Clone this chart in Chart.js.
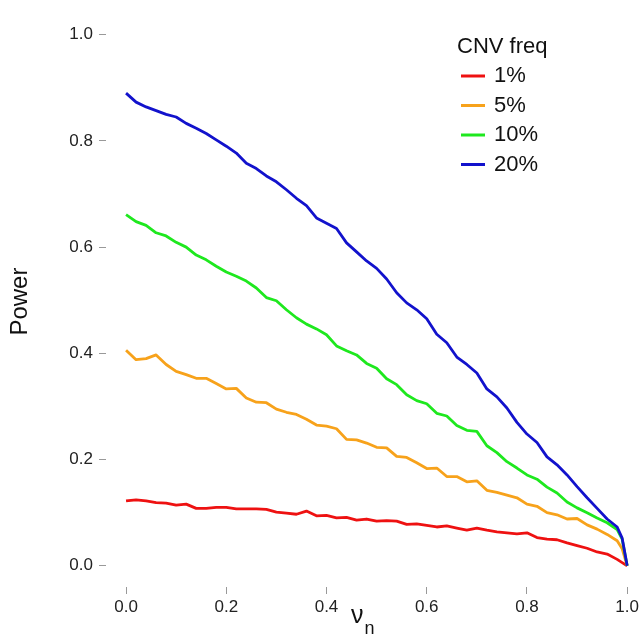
<!DOCTYPE html>
<html>
<head>
<meta charset="utf-8">
<script src="https://cdn.jsdelivr.net/npm/chart.js@4.4.3/dist/chart.umd.min.js"></script>
<style>
  html, body { margin: 0; padding: 0; background: #fff; }
  #wrap { width: 642px; height: 636px; position: relative; }
</style>
</head>
<body>
<div id="wrap"><canvas id="chart" width="642" height="636"></canvas></div>
<script>
// nu_n grid (x values)
const xValues = [0, 0.02, 0.04, 0.06, 0.08, 0.1, 0.12, 0.14, 0.16, 0.18,
    0.2, 0.22, 0.24, 0.26, 0.28, 0.3, 0.32, 0.34, 0.36, 0.38,
    0.4, 0.42, 0.44, 0.46, 0.48, 0.5, 0.52, 0.54, 0.56, 0.58,
    0.6, 0.62, 0.64, 0.66, 0.68, 0.7, 0.72, 0.74, 0.76, 0.78,
    0.8, 0.82, 0.84, 0.86, 0.88, 0.9, 0.92, 0.94, 0.96, 0.98,
    0.99, 1];

// power per CNV frequency
const power1 = [0.122, 0.124, 0.122, 0.119, 0.118, 0.114, 0.116, 0.108, 0.108, 0.110,
    0.110, 0.107, 0.107, 0.107, 0.106, 0.101, 0.099, 0.097, 0.103, 0.094,
    0.095, 0.090, 0.091, 0.086, 0.088, 0.084, 0.085, 0.084, 0.078, 0.079,
    0.076, 0.073, 0.075, 0.071, 0.067, 0.071, 0.067, 0.064, 0.062, 0.060,
    0.062, 0.053, 0.050, 0.049, 0.043, 0.038, 0.033, 0.026, 0.022, 0.012,
    0.006, 0.000];
const power5 = [0.406, 0.388, 0.390, 0.397, 0.379, 0.366, 0.360, 0.353, 0.353, 0.343,
    0.333, 0.334, 0.316, 0.308, 0.307, 0.295, 0.289, 0.285, 0.276, 0.265,
    0.263, 0.258, 0.238, 0.237, 0.231, 0.223, 0.222, 0.206, 0.204, 0.194,
    0.183, 0.184, 0.168, 0.168, 0.158, 0.160, 0.142, 0.138, 0.133, 0.128,
    0.116, 0.112, 0.100, 0.096, 0.088, 0.089, 0.077, 0.069, 0.059, 0.047,
    0.032, 0.000];
const power10 = [0.661, 0.648, 0.641, 0.627, 0.621, 0.609, 0.600, 0.585, 0.576, 0.564,
    0.553, 0.545, 0.536, 0.523, 0.505, 0.499, 0.482, 0.467, 0.455, 0.446,
    0.435, 0.414, 0.405, 0.397, 0.381, 0.372, 0.352, 0.341, 0.322, 0.311,
    0.305, 0.287, 0.282, 0.264, 0.255, 0.253, 0.226, 0.213, 0.196, 0.184,
    0.171, 0.163, 0.148, 0.137, 0.120, 0.109, 0.100, 0.090, 0.081, 0.068,
    0.050, 0.000];
const power20 = [0.890, 0.873, 0.864, 0.857, 0.850, 0.845, 0.833, 0.824, 0.814, 0.802,
    0.790, 0.777, 0.758, 0.748, 0.734, 0.723, 0.708, 0.692, 0.678, 0.655,
    0.645, 0.635, 0.608, 0.591, 0.574, 0.560, 0.540, 0.514, 0.495, 0.482,
    0.465, 0.436, 0.420, 0.393, 0.379, 0.363, 0.333, 0.318, 0.297, 0.270,
    0.248, 0.232, 0.205, 0.190, 0.171, 0.149, 0.128, 0.108, 0.088, 0.073,
    0.052, 0.000];

const seriesLabels = ['1%', '5%', '10%', '20%'];
const seriesColors = ['#ee1111', '#f7a21b', '#1ee81e', '#1212cc'];
const tickValues = [0, 0.2, 0.4, 0.6, 0.8, 1.0];

const legendTitle = 'CNV freq';
const yTitle = 'Power';
const xTitleMain = 'ν';
const xTitleSub = 'n';

const family = '"Liberation Sans", Arial, sans-serif';

const toPoints = ys => xValues.map((x, i) => ({ x: x, y: ys[i] }));

// legend box + subscripted x title, R style
const annotations = {
    id: 'annotations',
    afterDraw(chart) {
        const ctx = chart.ctx;
        ctx.save();
        ctx.fillStyle = '#111';
        ctx.textAlign = 'left';
        ctx.textBaseline = 'middle';
        ctx.font = `22px ${family}`;
        ctx.fillText(legendTitle, 457, 47);
        chart.data.datasets.forEach((ds, i) => {
            const y = 76 + i * 29.5;
            ctx.strokeStyle = ds.borderColor;
            ctx.lineWidth = 3;
            ctx.beginPath();
            ctx.moveTo(461, y);
            ctx.lineTo(485, y);
            ctx.stroke();
            ctx.fillText(ds.label, 494, y);
        });

        ctx.textBaseline = 'alphabetic';
        ctx.font = `25px ${family}`;
        ctx.fillText(xTitleMain, 351, 623);
        const w = ctx.measureText(xTitleMain).width;
        ctx.font = `18px ${family}`;
        ctx.fillText(xTitleSub, 351 + w + 1, 634);
        ctx.restore();
    }
};

const fixedTicks = scale => {
    scale.ticks = tickValues.map(v => ({ value: v }));
};

const tickStyle = {
    padding: 0,
    color: '#222',
    font: { size: 17, family: family },
    callback: v => Number(v).toFixed(1),
    autoSkip: false,
    maxRotation: 0
};

new Chart(document.getElementById('chart').getContext('2d'), {
    type: 'line',
    data: {
        datasets: seriesLabels.map((label, i) => ({
            label: label,
            data: toPoints([power1, power5, power10, power20][i]),
            borderColor: seriesColors[i],
            backgroundColor: seriesColors[i],
            borderWidth: 2.8,
            pointRadius: 0,
            tension: 0,
            borderJoinStyle: 'round',
            order: 3 - i
        }))
    },
    options: {
        responsive: false,
        devicePixelRatio: 1,
        animation: false,
        layout: { padding: 0 },
        plugins: {
            legend: { display: false },
            tooltip: { enabled: false }
        },
        scales: {
            x: {
                type: 'linear',
                min: -0.04,
                max: 1.028,
                afterBuildTicks: fixedTicks,
                afterFit: s => { s.height = 49; },
                border: { display: false },
                grid: { drawOnChartArea: false, drawTicks: true, tickLength: 7, tickColor: '#999', tickWidth: 1 },
                ticks: Object.assign({}, tickStyle, { padding: 3 })
            },
            y: {
                type: 'linear',
                min: -0.04,
                max: 1.0348,
                afterBuildTicks: fixedTicks,
                afterFit: s => { s.width = 106; },
                border: { display: false },
                grid: { drawOnChartArea: false, drawTicks: true, tickLength: 7, tickColor: '#999', tickWidth: 1 },
                ticks: Object.assign({}, tickStyle, { padding: 6 }),
                title: {
                    display: true,
                    text: yTitle,
                    color: '#111',
                    font: { size: 24, family: family },
                    padding: { top: 6, bottom: 0 }
                }
            }
        }
    },
    plugins: [annotations]
});
</script>
</body>
</html>
